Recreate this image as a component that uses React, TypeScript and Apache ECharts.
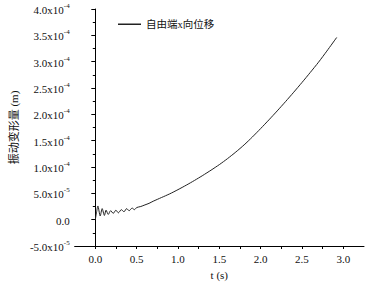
import React, { useEffect, useRef } from "react";
import * as echarts from "echarts";

// time (s)
const timeS: number[] = [
  0, 0.015, 0.031, 0.059, 0.083, 0.11, 0.13, 0.157, 0.185, 0.217, 0.249, 0.279,
  0.315, 0.347, 0.379, 0.409, 0.445, 0.473, 0.5, 0.55, 0.6, 0.65, 0.7, 0.8, 0.9,
  1.0, 1.1, 1.2, 1.3, 1.4, 1.5, 1.6, 1.7, 1.8, 1.9, 2.0, 2.1, 2.2, 2.3, 2.4, 2.5,
  2.6, 2.7, 2.8, 2.92,
];
// displacement, in units of 1e-4 m
const dispE4: number[] = [
  0, 0.14, 0.26, 0.07, 0.21, 0.08, 0.18, 0.1, 0.17, 0.12, 0.18, 0.13, 0.19, 0.15,
  0.21, 0.17, 0.22, 0.19, 0.23, 0.25, 0.28, 0.31, 0.35, 0.42, 0.49, 0.57, 0.655,
  0.745, 0.84, 0.94, 1.045, 1.16, 1.285, 1.42, 1.57, 1.73, 1.895, 2.065, 2.24,
  2.42, 2.605, 2.795, 2.99, 3.2, 3.46,
];
const UNIT = 1e-4;
const seriesName = "自由端x向位移";
const xLabels: number[] = [0, 0.5, 1.0, 1.5, 2.0, 2.5, 3.0];

const FONT = "Liberation Serif, Times New Roman, Noto Sans CJK SC, serif";
const TXT = "#111";

export default function App() {
  const ref = useRef<HTMLDivElement>(null);
  useEffect(() => {
    if (!ref.current) return;
    const chart = echarts.init(ref.current, undefined, { renderer: "svg" });
    const data = timeS.map((t, i) => [t, dispE4[i] * UNIT]);
    chart.setOption({
      animation: false,
      backgroundColor: "#fff",
      textStyle: { fontFamily: FONT },
      grid: { left: 69, right: 4, top: 9, bottom: 38 },
      legend: {
        left: 113,
        top: 14,
        data: [{ name: seriesName, icon: "rect" }],
        itemWidth: 23,
        itemHeight: 1.5,
        itemGap: 5,
        textStyle: { fontFamily: FONT, fontSize: 10.5, color: TXT },
      },
      xAxis: {
        type: "value",
        min: -0.25,
        max: 3.25,
        interval: 0.25,
        name: "t (s)",
        nameLocation: "middle",
        nameGap: 23,
        nameTextStyle: { fontFamily: FONT, fontSize: 11, color: TXT },
        axisLine: { onZero: false, lineStyle: { color: "#000", width: 1 } },
        axisTick: { show: true, length: 3, lineStyle: { color: "#000" } },
        splitLine: { show: false },
        axisLabel: {
          margin: 7,
          fontFamily: FONT,
          fontSize: 11,
          color: TXT,
          showMinLabel: false,
          showMaxLabel: false,
          formatter: (v: number) => {
            const hit = xLabels.find((x) => Math.abs(x - v) < 1e-6);
            return hit === undefined ? "" : hit.toFixed(1);
          },
        },
      },
      yAxis: {
        type: "value",
        min: -5e-5,
        max: 4e-4,
        interval: 5e-5,
        name: "振动变形量 (m)",
        nameLocation: "middle",
        nameGap: 54,
        nameTextStyle: { fontFamily: FONT, fontSize: 11, color: TXT },
        axisLine: { show: true, lineStyle: { color: "#000", width: 1 } },
        axisTick: { show: true, length: 4, lineStyle: { color: "#000" } },
        minorTick: { show: true, splitNumber: 2, length: 2.5, lineStyle: { color: "#000" } },
        splitLine: { show: false },
        axisLabel: {
          margin: 5,
          fontFamily: FONT,
          fontSize: 11,
          color: TXT,
          formatter: (v: number) => {
            if (Math.abs(v) < 1e-12) return "{b|0.0}";
            const exp = Math.floor(Math.log10(Math.abs(v)) + 1e-9);
            const mant = (v / Math.pow(10, exp)).toFixed(1);
            return `{b|${mant}x10}{s|${exp}}`;
          },
          rich: {
            b: { fontFamily: FONT, fontSize: 11, color: TXT, lineHeight: 13, verticalAlign: "bottom" },
            s: { fontFamily: FONT, fontSize: 7, color: TXT, lineHeight: 13, verticalAlign: "top" },
          },
        },
      },
      series: [
        {
          name: seriesName,
          type: "line",
          data,
          symbol: "none",
          showSymbol: false,
          smooth: 0.25,
          lineStyle: { color: "#222", width: 1 },
          itemStyle: { color: "#222" },
        },
      ],
    });
    return () => chart.dispose();
  }, []);
  return (
    <div
      ref={ref}
      style={{ position: "absolute", left: 0, top: 0, width: 368, height: 285, background: "#fff" }}
    />
  );
}
